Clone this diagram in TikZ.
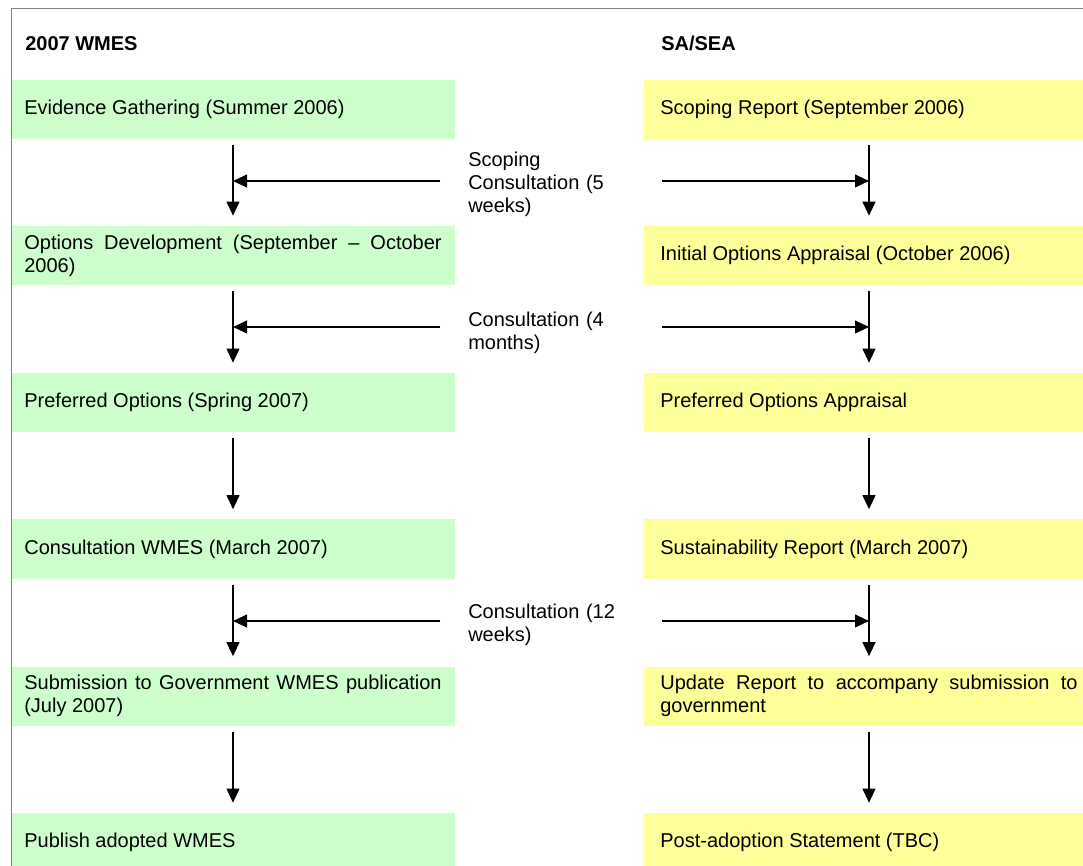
\documentclass[tikz,border=0pt]{standalone}
\usepackage{fontspec}
\setmainfont{Liberation Sans}
\usetikzlibrary{arrows.meta}
\definecolor{wmesgreen}{HTML}{CCFFCC}
\definecolor{seayellow}{HTML}{FFFF99}
\hyphenpenalty=10000
\exhyphenpenalty=10000
\begin{document}
\begin{tikzpicture}[x=0.75pt, y=-0.75pt,
        every node/.style={font=\fontsize{15}{17.25}\selectfont},
        stage/.style={rectangle, inner ysep=0pt, text width=313pt, align=justify, minimum height=44.25pt},
        wmes/.style={stage, fill=wmesgreen, inner xsep=9.75pt},
        sea/.style={stage, fill=seayellow, inner xsep=12pt},
        consult/.style={inner sep=0pt, text width=120pt, align=left, anchor=west},
        flow/.style={line width=1.5pt, -{Triangle[length=10.5pt, width=9.5pt]}}]
    \useasboundingbox (0, 0) rectangle (1083, 866);
    \clip (0, 0) rectangle (1083, 866);
    \node [anchor=base west, inner sep=0pt, font=\fontsize{15}{17.25}\selectfont\bfseries] (h1) at (25, 51) {2007 WMES};
    \node [anchor=base west, inner sep=0pt, font=\fontsize{15}{17.25}\selectfont\bfseries] (h2) at (661, 51) {SA/SEA};
    % left column
    \node [wmes] (l1) at (233, 109.5) {Evidence Gathering (Summer 2006)};
    \node [wmes] (l2) at (233, 255.5) {Options Development (September -- October 2006)};
    \node [wmes] (l3) at (233, 402.5) {Preferred Options (Spring 2007)};
    \node [wmes] (l4) at (233, 549) {Consultation WMES (March 2007)};
    \node [wmes] (l5) at (233, 696) {Submission to Government WMES publication (July 2007)};
    \node [wmes] (l6) at (233, 842.5) {Publish adopted WMES};
    % right column
    \node [sea] (r1) at (869, 109.5) {Scoping Report (September 2006)};
    \node [sea] (r2) at (869, 255.5) {Initial Options Appraisal (October 2006)};
    \node [sea] (r3) at (869, 402.5) {Preferred Options Appraisal};
    \node [sea] (r4) at (869, 549) {Sustainability Report (March 2007)};
    \node [sea] (r5) at (869, 696) {Update Report to accompany submission to government};
    \node [sea] (r6) at (869, 842.5) {Post-adoption Statement (TBC)};
    % consultation periods
    \node [consult] (c1) at (468, 184) {Scoping Consultation (5 weeks)};
    \node [consult] (c2) at (468, 332.5) {Consultation (4 months)};
    \node [consult] (c3) at (468, 624.5) {Consultation (12 weeks)};
    \coordinate (s1) at (440, 181);
    \coordinate (s2) at (440, 327);
    \coordinate (s3) at (440, 621);
    \coordinate (t1) at (662, 181);
    \coordinate (t2) at (662, 327);
    \coordinate (t3) at (662, 621);
    % vertical flow
    \draw [flow, shorten <=4.5pt, shorten >=7.5pt] (l1) -- (l2);
    \draw [flow, shorten <=4.5pt, shorten >=7.5pt] (l2) -- (l3);
    \draw [flow, shorten <=4.5pt, shorten >=7.5pt] (l3) -- (l4);
    \draw [flow, shorten <=4.5pt, shorten >=7.5pt] (l4) -- (l5);
    \draw [flow, shorten <=4.5pt, shorten >=7.5pt] (l5) -- (l6);
    \draw [flow, shorten <=4.5pt, shorten >=7.5pt] (r1) -- (r2);
    \draw [flow, shorten <=4.5pt, shorten >=7.5pt] (r2) -- (r3);
    \draw [flow, shorten <=4.5pt, shorten >=7.5pt] (r3) -- (r4);
    \draw [flow, shorten <=4.5pt, shorten >=7.5pt] (r4) -- (r5);
    \draw [flow, shorten <=4.5pt, shorten >=7.5pt] (r5) -- (r6);
    % consultation arrows
    \draw [flow] (s1) -- (l1 |- s1);
    \draw [flow] (s2) -- (l2 |- s2);
    \draw [flow] (s3) -- (l4 |- s3);
    \draw [flow] (t1) -- (r1 |- t1);
    \draw [flow] (t2) -- (r2 |- t2);
    \draw [flow] (t3) -- (r4 |- t3);
    % frame
    \draw [black!50, line width=0.75pt] (11, 866) -- (11, 9) -- (1083, 9);
\end{tikzpicture}
\end{document}
